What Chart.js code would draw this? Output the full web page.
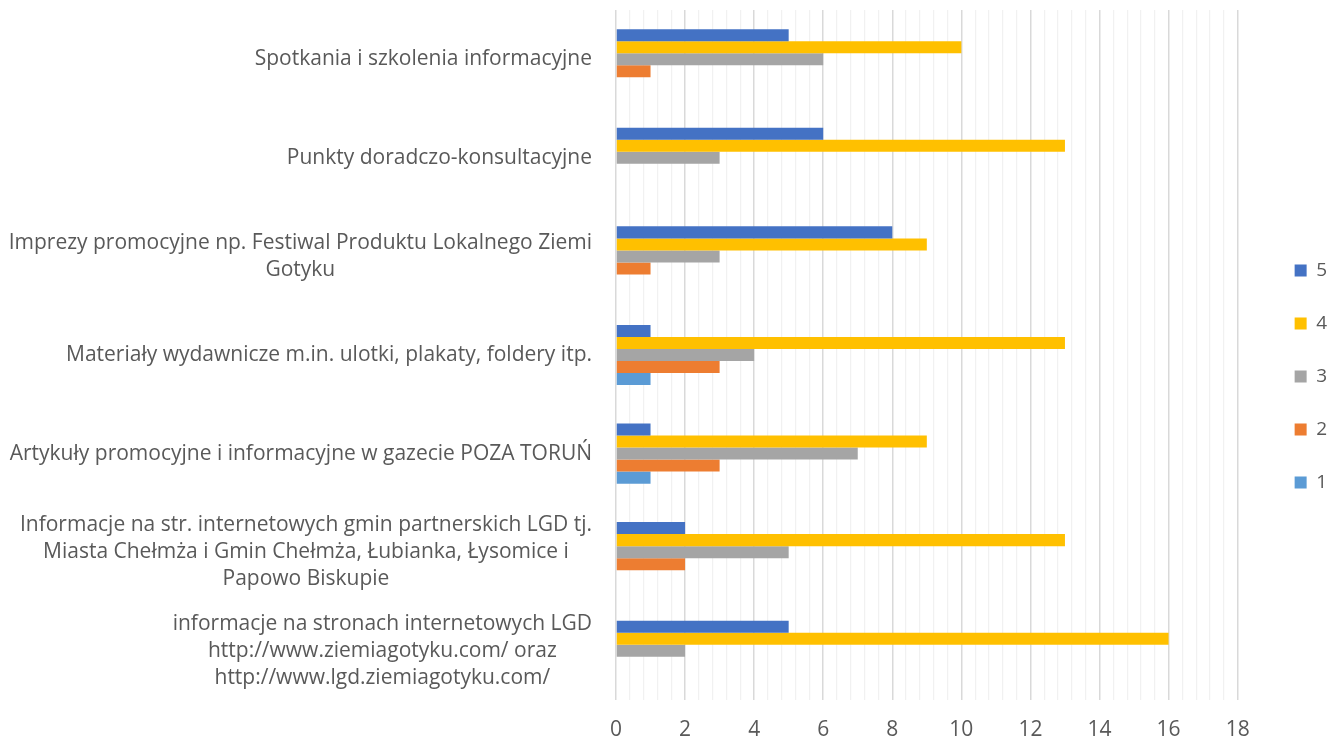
<!DOCTYPE html>
<html>
<head>
<meta charset="utf-8">
<script src="https://cdn.jsdelivr.net/npm/chart.js@4/dist/chart.umd.min.js"></script>
<style>
  html, body { margin: 0; padding: 0; background: #fff; }
  #wrap { width: 1338px; height: 743px; position: relative; }
</style>
</head>
<body>
<div id="wrap"><canvas id="myChart"></canvas></div>
<script>
// categories (top to bottom), multi-line as in the original
const categories = [
  ['Spotkania i szkolenia informacyjne'],
  ['Punkty doradczo-konsultacyjne'],
  ['Imprezy promocyjne np. Festiwal Produktu Lokalnego Ziemi', 'Gotyku'],
  ['Materiały wydawnicze m.in. ulotki, plakaty, foldery itp.'],
  ['Artykuły promocyjne i informacyjne w gazecie POZA TORUŃ'],
  ['Informacje na str. internetowych gmin partnerskich LGD tj.', 'Miasta Chełmża i Gmin Chełmża, Łubianka, Łysomice i', 'Papowo Biskupie'],
  ['informacje na stronach internetowych LGD', 'http://www.ziemiagotyku.com/ oraz', 'http://www.lgd.ziemiagotyku.com/']
];

// series values, one per rating
const s5 = [5, 6, 8, 1, 1, 2, 5];
const s4 = [10, 13, 9, 13, 9, 13, 16];
const s3 = [6, 3, 3, 4, 7, 5, 2];
const s2 = [1, 0, 1, 3, 3, 2, 0];
const s1 = [0, 0, 0, 1, 1, 0, 0];

const seriesNames = ['5', '4', '3', '2', '1'];
const seriesColors = ['#4472C4', '#FFC000', '#A5A5A5', '#ED7D31', '#5B9BD5'];

const xTicks = [0, 2, 4, 6, 8, 10, 12, 14, 16, 18];

const FONT = '"Open Sans", sans-serif';
const TXT = '#595959';
const LEGEND_SHIFT = 23;

function isMajor(v) {
  return Math.abs(v / 2 - Math.round(v / 2)) < 1e-6;
}

// draws the category labels: lines centred to each other, block right-aligned to the axis
const catLabels = {
  id: 'catLabels',
  afterDraw(chart) {
    const ctx = chart.ctx;
    const y = chart.scales.y;
    const fs = 21, lh = 27;
    ctx.save();
    ctx.font = fs + 'px ' + FONT;
    ctx.fillStyle = TXT;
    ctx.textAlign = 'center';
    ctx.textBaseline = 'middle';
    categories.forEach((lines, i) => {
      const cy = y.getPixelForValue(i);
      let w = 0;
      lines.forEach(l => { w = Math.max(w, ctx.measureText(l).width); });
      const cx = 592 - w / 2;
      const top = cy - (lines.length - 1) * lh / 2;
      lines.forEach((l, j) => ctx.fillText(l, cx, top + j * lh));
    });
    ctx.restore();
  }
};

// leave a wider gap between the plot and the legend
const legendGap = {
  id: 'legendGap',
  beforeLayout(chart) {
    const lg = chart.legend;
    if (lg && !lg._gapPatched) {
      const fit = lg.fit.bind(lg);
      lg.fit = function () { fit(); this.width += LEGEND_SHIFT; };
      const draw = lg.draw.bind(lg);
      lg.draw = function (a) { this.left += LEGEND_SHIFT; draw(a); this.left -= LEGEND_SHIFT; };
      lg._gapPatched = true;
    }
  }
};

const data = [s5, s4, s3, s2, s1];

new Chart(document.getElementById('myChart'), {
  type: 'bar',
  data: {
    labels: categories.map(c => c.join(' ')),
    datasets: seriesNames.map((n, i) => ({
      label: n,
      data: data[i],
      backgroundColor: seriesColors[i],
      borderWidth: 0,
      barPercentage: 1,
      categoryPercentage: 0.61
    }))
  },
  options: {
    indexAxis: 'y',
    responsive: true,
    maintainAspectRatio: false,
    animation: false,
    layout: { padding: { top: 10, right: 1, bottom: 0, left: 0 } },
    scales: {
      x: {
        min: 0,
        max: 18,
        afterFit: (s) => { s.height = 43; },
        ticks: {
          stepSize: 0.4,
          autoSkip: false,
          maxRotation: 0,
          padding: 17,
          color: TXT,
          font: { family: FONT, size: 21 },
          callback: (v) => {
            const m = xTicks.find(t => Math.abs(t - v) < 1e-6);
            return m === undefined ? '' : String(m);
          }
        },
        grid: {
          drawTicks: false,
          color: (c) => isMajor(c.tick.value) ? '#d9d9d9' : '#f1f1f1',
          lineWidth: (c) => isMajor(c.tick.value) ? 1.5 : 1.2
        },
        border: { display: false }
      },
      y: {
        ticks: { display: false },
        grid: { display: false },
        border: { display: false },
        afterFit: (s) => { s.width = 616; }
      }
    },
    plugins: {
      legend: {
        position: 'right',
        labels: {
          boxWidth: 12,
          boxHeight: 12,
          padding: 34,
          color: TXT,
          font: { family: FONT, size: 19 }
        }
      },
      tooltip: { enabled: false }
    }
  },
  plugins: [catLabels, legendGap]
});
</script>
</body>
</html>
